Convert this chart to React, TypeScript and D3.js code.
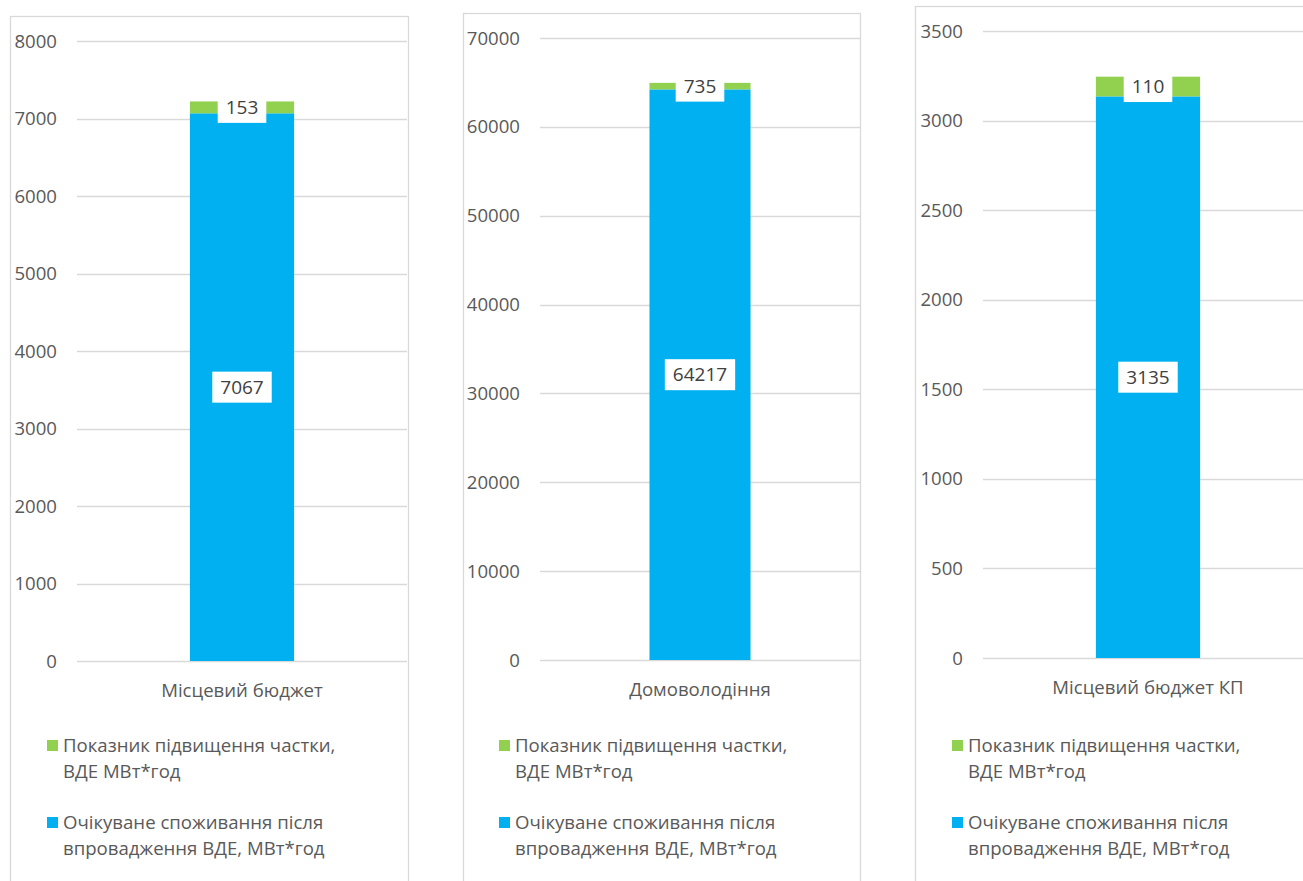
import React, { useEffect, useRef } from "react";
import * as d3 from "d3";

// ---- data ----
const categories = ["Місцевий бюджет", "Домоволодіння", "Місцевий бюджет КП"];
const consumption = [7067, 64217, 3135]; // Очікуване споживання після впровадження ВДЕ, МВт*год
const increase = [153, 735, 110]; // Показник підвищення частки, ВДЕ МВт*год
const axisMax = [8000, 70000, 3500];
const axisStep = [1000, 10000, 500];
const legendLabels = [
  ["Показник підвищення частки,", "ВДЕ МВт*год"],
  ["Очікуване споживання після", "впровадження ВДЕ, МВт*год"],
];

// ---- layout / style ----
const W = 1303;
const H = 881;
const BLUE = "#00B0F0";
const GREEN = "#92D050";
const GRID = "#D9D9D9";
const FONT = "'Open Sans', 'Noto Sans', sans-serif";
const FS = 18.6;

const layouts = [
  { bx: 10, by: 16, bw: 398, x0: 77, x1: 407, yTop: 41, yBot: 661, tickX: 57, legX: 47 },
  { bx: 463, by: 13, bw: 397, x0: 540, x1: 860, yTop: 38, yBot: 660, tickX: 520, legX: 499 },
  { bx: 915, by: 6, bw: 420, x0: 983, x1: 1313, yTop: 31, yBot: 658, tickX: 963, legX: 952 },
];

export default function App() {
  const ref = useRef<SVGSVGElement>(null);

  useEffect(() => {
    const svg = d3.select(ref.current);
    svg.selectAll("*").remove();

    categories.forEach((cat, i) => {
      const L = layouts[i];
      const g = svg.append("g");

      // panel border
      g.append("rect")
        .attr("x", L.bx + 0.5)
        .attr("y", L.by + 0.5)
        .attr("width", L.bw)
        .attr("height", H + 40)
        .attr("fill", "#fff")
        .attr("stroke", GRID)
        .attr("stroke-width", 1.3);

      const y = d3.scaleLinear().domain([0, axisMax[i]]).range([L.yBot, L.yTop]);
      const x = d3.scaleBand().domain([cat]).range([L.x0, L.x1]).padding(0.52);
      const ticks = d3.range(0, axisMax[i] + axisStep[i] / 2, axisStep[i]);

      // gridlines
      g.selectAll(".grid")
        .data(ticks)
        .join("line")
        .attr("x1", L.x0)
        .attr("x2", L.x1)
        .attr("y1", (d) => Math.round(y(d)) + 0.5)
        .attr("y2", (d) => Math.round(y(d)) + 0.5)
        .attr("stroke", GRID)
        .attr("stroke-width", 1.3);

      // tick labels
      g.selectAll(".tick")
        .data(ticks)
        .join("text")
        .attr("x", L.tickX)
        .attr("y", (d) => y(d))
        .attr("dy", "0.35em")
        .attr("text-anchor", "end")
        .attr("font-family", FONT)
        .attr("font-size", FS)
        .attr("fill", "#595959")
        .text((d) => String(d));

      const bx = x(cat)!;
      const bw = x.bandwidth();
      const base = consumption[i];
      const top = base + increase[i];

      // bars
      g.append("rect")
        .attr("x", bx)
        .attr("y", y(base))
        .attr("width", bw)
        .attr("height", y(0) - y(base))
        .attr("fill", BLUE);
      g.append("rect")
        .attr("x", bx)
        .attr("y", y(top))
        .attr("width", bw)
        .attr("height", y(base) - y(top))
        .attr("fill", GREEN);

      // data labels
      const labels = [
        { v: base, cy: (y(0) + y(base)) / 2 },
        { v: increase[i], cy: (y(base) + y(top)) / 2 },
      ];
      labels.forEach((lb) => {
        const cx = bx + bw / 2;
        const boxG = g.append("g");
        const rect = boxG.append("rect").attr("fill", "#fff");
        const t = boxG
          .append("text")
          .attr("x", cx)
          .attr("y", lb.cy)
          .attr("dy", "0.35em")
          .attr("text-anchor", "middle")
          .attr("font-family", FONT)
          .attr("font-size", 19)
          .attr("fill", "#404040")
          .text(String(lb.v));
        const tw = (t.node() as SVGTextElement).getComputedTextLength();
        const bwid = tw + 16;
        const bh = 31;
        rect
          .attr("x", cx - bwid / 2)
          .attr("y", lb.cy - bh / 2)
          .attr("width", bwid)
          .attr("height", bh);
      });

      // category label
      g.append("text")
        .attr("x", bx + bw / 2)
        .attr("y", L.yBot + 29)
        .attr("dy", "0.35em")
        .attr("text-anchor", "middle")
        .attr("font-family", FONT)
        .attr("font-size", FS)
        .attr("fill", "#595959")
        .text(cat);

      // legend
      const legColors = [GREEN, BLUE];
      const legY = [745, 822];
      legColors.forEach((c, k) => {
        g.append("rect")
          .attr("x", L.legX)
          .attr("y", legY[k] - 5)
          .attr("width", 11)
          .attr("height", 11)
          .attr("fill", c);
        legendLabels[k].forEach((line, li) => {
          g.append("text")
            .attr("x", L.legX + 16)
            .attr("y", legY[k] + li * 26)
            .attr("dy", "0.35em")
            .attr("font-family", FONT)
            .attr("font-size", FS)
            .attr("fill", "#595959")
            .text(line);
        });
      });
    });
  }, []);

  return (
    <div style={{ position: "absolute", left: 0, top: 0, width: W, height: H, background: "#fff" }}>
      <svg ref={ref} width={W} height={H} style={{ display: "block" }} />
    </div>
  );
}
